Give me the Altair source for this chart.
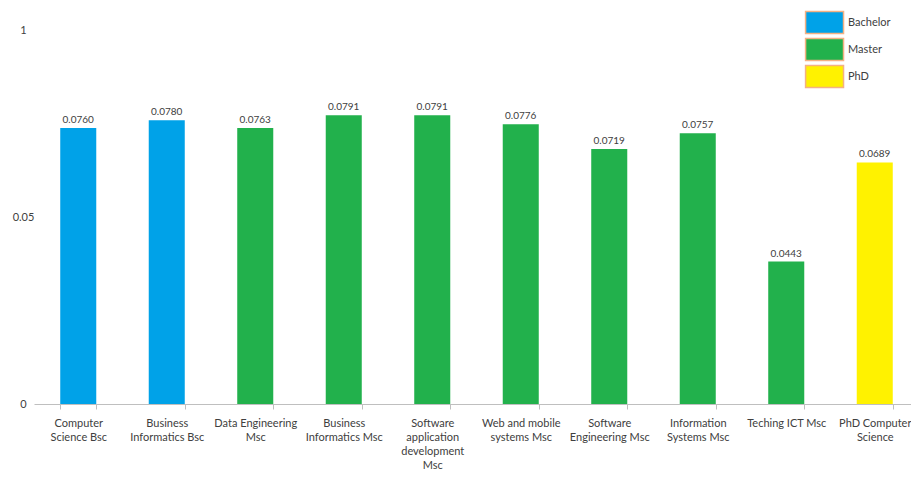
import altair as alt
import pandas as pd

categories = [
    "Computer|Science Bsc",
    "Business|Informatics Bsc",
    "Data Engineering|Msc",
    "Business|Informatics Msc",
    "Software|application|development|Msc",
    "Web and mobile|systems Msc",
    "Software|Engineering Msc",
    "Information|Systems Msc",
    "Teching ICT Msc",
    "PhD Computer|Science",
]
levels = ["Bachelor", "Bachelor", "Master", "Master", "Master",
          "Master", "Master", "Master", "Master", "PhD"]
# bar heights as drawn (read against the 0 .. "1" axis span)
bar_heights = [0.0738, 0.0759, 0.0738, 0.0772, 0.0772,
               0.0748, 0.0682, 0.0724, 0.0381, 0.0646]
value_labels = ["0.0760", "0.0780", "0.0763", "0.0791", "0.0791",
                "0.0776", "0.0719", "0.0757", "0.0443", "0.0689"]

legend_levels = ["Bachelor", "Master", "PhD"]
legend_colors = ["#00A2E8", "#22B14C", "#FFF200"]

y_tick_values = [0, 0.05, 0.1]
y_tick_labels = ["0", "0.05", "1"]

df = pd.DataFrame({
    "category": categories,
    "level": levels,
    "value": bar_heights,
    "label": value_labels,
})

label_expr = " : ".join(
    f"datum.value == {v} ? '{t}'" for v, t in zip(y_tick_values, y_tick_labels)
) + " : ''"

FONT = "Lato"
TXT = "#404040"

x_enc = alt.X(
    "category:N",
    sort=categories,
    scale=alt.Scale(range=[0, 885], paddingInner=0.593, paddingOuter=0.2965),
    axis=alt.Axis(
        title=None,
        labelAngle=0,
        labelExpr="split(datum.label, '|')",
        labelFont=FONT,
        labelFontSize=11,
        labelColor=TXT,
        labelLineHeight=14,
        labelPadding=8,
        labelBaseline="top",
        domainColor="#BFBFBF",
        tickColor="#BFBFBF",
        tickSize=5,
        tickBand="extent",
        labelOverlap=False,
        labelBound=False,
    ),
)

y_enc = alt.Y(
    "value:Q",
    scale=alt.Scale(domain=[0, 0.1], nice=False, zero=True),
    axis=alt.Axis(
        title=None,
        values=y_tick_values,
        labelExpr=label_expr,
        labelFont=FONT,
        labelFontSize=11,
        labelColor=TXT,
        labelAlign="center",
        labelPadding=11,
        domain=False,
        ticks=False,
        grid=False,
    ),
)

bars = alt.Chart(df).mark_bar().encode(
    x=x_enc,
    y=y_enc,
    color=alt.Color(
        "level:N",
        scale=alt.Scale(domain=legend_levels, range=legend_colors),
        legend=alt.Legend(
            title=None,
            orient="none",
            legendX=770,
            legendY=-20,
            symbolType="M-0.95,-0.95H2.35V0.95H-0.95Z",
            symbolSize=529,
            symbolStrokeColor="#F4B183",
            symbolStrokeWidth=1.5,
            symbolOpacity=1,
            labelFont=FONT,
            labelFontSize=11,
            labelColor=TXT,
            labelOffset=19,
            clipHeight=25,
            rowPadding=2,
            padding=0,
        ),
    ),
)

texts = alt.Chart(df).mark_text(
    baseline="bottom", dy=-3, font=FONT, fontSize=10, color=TXT
).encode(
    x=alt.X("category:N", sort=categories),
    y=alt.Y("value:Q"),
    text="label:N",
)

chart = (
    alt.layer(bars, texts)
    .properties(
        width=877,
        height=374,
        autosize=alt.AutoSizeParams(type="none"),
        padding={"left": 26, "top": 22, "right": 0, "bottom": 69},
        background="white",
    )
    .configure_view(stroke=None)
)

chart.save("out.html", embed_options={"renderer": "svg", "actions": False})
